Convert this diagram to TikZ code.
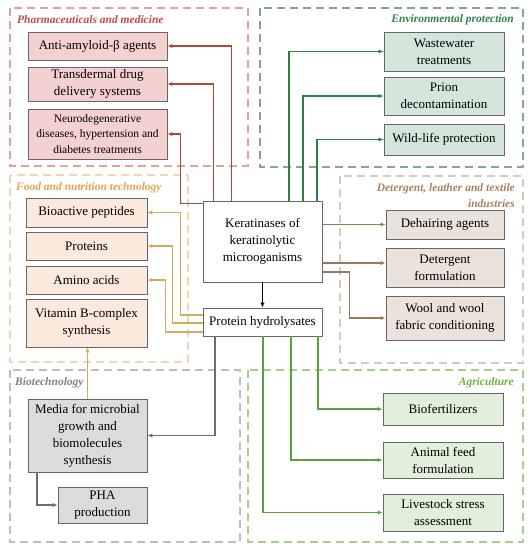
\documentclass[tikz,border=0pt]{standalone}
\usepackage{fontspec}
\setmainfont{Liberation Serif}
\usetikzlibrary{arrows.meta}

\definecolor{pharmfill}{RGB}{245,208,208}
\definecolor{pharmline}{RGB}{226,160,160}
\definecolor{pharmtext}{RGB}{196,72,72}
\definecolor{pharmarrow}{RGB}{176,74,56}
\definecolor{envfill}{RGB}{212,230,220}
\definecolor{envline}{RGB}{130,168,144}
\definecolor{envtext}{RGB}{46,128,80}
\definecolor{envarrow}{RGB}{46,125,70}
\definecolor{foodfill}{RGB}{252,233,221}
\definecolor{foodline}{RGB}{245,214,178}
\definecolor{foodtext}{RGB}{232,160,80}
\definecolor{foodarrow}{RGB}{212,170,92}
\definecolor{detfill}{RGB}{236,226,220}
\definecolor{detline}{RGB}{214,202,192}
\definecolor{dettext}{RGB}{166,128,96}
\definecolor{detarrow}{RGB}{150,125,90}
\definecolor{biofill}{RGB}{220,220,220}
\definecolor{bioline}{RGB}{190,190,190}
\definecolor{biotext}{RGB}{128,128,128}
\definecolor{bioarrow}{RGB}{110,110,110}
\definecolor{agrifill}{RGB}{226,239,218}
\definecolor{agriline}{RGB}{168,208,141}
\definecolor{agritext}{RGB}{112,173,71}
\definecolor{agriarrow}{RGB}{90,160,60}

\begin{document}
\begin{tikzpicture}[x=1pt, y=-1pt,
        >={Latex[length=5pt,width=4.5pt]},
        box/.style={draw=black!60, line width=0.9pt, align=center, inner sep=1pt,
            font=\fontsize{13}{17}\selectfont},
        group/.style={dashed, dash pattern=on 8pt off 5pt, line width=1.6pt},
        grouptitle/.style={font=\fontsize{11.5}{16}\selectfont\bfseries\itshape, inner sep=0pt},
        link/.style={->, line width=1.4pt}]
    \useasboundingbox (0,0) rectangle (531,550);

    % Groups
    \draw[group, pharmline] (10,8) rectangle (248,166);
    \draw[group, envline] (260,8) rectangle (523,167);
    \draw[group, foodline] (10,175) rectangle (188,362);
    \draw[group, detline] (340,176) rectangle (523,363);
    \draw[group, bioline] (10,370) rectangle (240,542);
    \draw[group, agriline] (248,370) rectangle (523,542);

    \node[grouptitle, pharmtext, anchor=west] (tpharm) at (17,20) {Pharmaceuticals and medicine};
    \node[grouptitle, envtext, anchor=east] (tenv) at (514,20) {Environmental protection};
    \node[grouptitle, foodtext, anchor=west] (tfood) at (16,188) {Food and nutrition technology};
    \node[grouptitle, dettext, anchor=north east, align=right] (tdet) at (515,183)
        {Detergent, leather and textile\\industries};
    \node[grouptitle, biotext, anchor=west] (tbio) at (15,383) {Biotechnology};
    \node[grouptitle, agritext, anchor=east] (tagri) at (514,383) {Agriculture};

    % Centre
    \node[box, fill=white, minimum width=119, minimum height=81] (kera) at (262.5,241.5)
        {Keratinases of\\keratinolytic\\microoganisms};
    \node[box, fill=white, minimum width=119, minimum height=28] (hydro) at (262.5,322) {Protein hydrolysates};

    % Pharmaceuticals and medicine
    \node[box, fill=pharmfill, minimum width=139, minimum height=28] (amyloid) at (97.5,46) {Anti-amyloid-β agents};
    \node[box, fill=pharmfill, minimum width=139, minimum height=34] (transderm) at (97.5,84)
        {Transdermal drug\\delivery systems};
    \node[box, fill=pharmfill, minimum width=139, minimum height=50, font=\fontsize{11.5}{15.5}\selectfont] (neuro) at (97.5,134)
        {Neurodegenerative\\diseases, hypertension and\\diabetes treatments};

    % Environmental protection
    \node[box, fill=envfill, minimum width=120, minimum height=39] (waste) at (444,51.5) {Wastewater\\treatments};
    \node[box, fill=envfill, minimum width=120, minimum height=38] (prion) at (444,96) {Prion\\decontamination};
    \node[box, fill=envfill, minimum width=120, minimum height=31] (wild) at (444,139.5) {Wild-life protection};

    % Food and nutrition technology
    \node[box, fill=foodfill, minimum width=121, minimum height=29] (bioact) at (86.5,212.5) {Bioactive peptides};
    \node[box, fill=foodfill, minimum width=121, minimum height=28] (prot) at (86.5,246) {Proteins};
    \node[box, fill=foodfill, minimum width=121, minimum height=28] (amino) at (86.5,280) {Amino acids};
    \node[box, fill=foodfill, minimum width=121, minimum height=48] (vitamin) at (86.5,323)
        {Vitamin B-complex\\synthesis};

    % Detergent, leather and textile industries
    \node[box, fill=detfill, minimum width=118, minimum height=29] (dehair) at (445,224.5) {Dehairing agents};
    \node[box, fill=detfill, minimum width=118, minimum height=39] (deterg) at (445,267.5) {Detergent\\formulation};
    \node[box, fill=detfill, minimum width=118, minimum height=44] (wool) at (445,318)
        {Wool and wool\\fabric conditioning};

    % Biotechnology
    \node[box, fill=biofill, minimum width=119, minimum height=73] (media) at (87.5,435.5)
        {Media for microbial\\growth and\\biomolecules\\synthesis};
    \node[box, fill=biofill, minimum width=89, minimum height=36] (pha) at (102.5,505) {PHA\\production};

    % Agriculture
    \node[box, fill=agrifill, minimum width=120, minimum height=32] (biofert) at (443,409) {Biofertilizers};
    \node[box, fill=agrifill, minimum width=120, minimum height=36] (animal) at (443,460) {Animal feed\\formulation};
    \node[box, fill=agrifill, minimum width=120, minimum height=37] (livestock) at (443,512.5)
        {Livestock stress\\assessment};

    % Connectors
    \draw[link, black] (kera.south) -- (hydro.north);

    \draw[link, pharmarrow] ([xshift=-31pt]kera.north) |- (amyloid.east);
    \draw[link, pharmarrow] ([xshift=-49pt]kera.north) |- (transderm.east);
    \draw[link, pharmarrow] ([yshift=-3pt]kera.north west) -- ++(-22,0) |- (neuro.east);

    \draw[link, envarrow] ([xshift=26.5pt]kera.north) |- (waste.west);
    \draw[link, envarrow] ([xshift=40.5pt]kera.north) |- (prion.west);
    \draw[link, envarrow] ([xshift=54.5pt]kera.north) |- (wild.west);

    \draw[link, foodarrow] ([yshift=7pt]hydro.west) -- ++(-22,0) |- (bioact.east);
    \draw[link, foodarrow] ([yshift=-1pt]hydro.west) -- ++(-30,0) |- (prot.east);
    \draw[link, foodarrow] ([yshift=-10pt]hydro.west) -- ++(-37,0) |- (amino.east);
    \draw[link, foodarrow] (media.north) -- (media.north |- vitamin.south);

    \draw[link, detarrow] (kera.east |- dehair.west) -- (dehair.west);
    \draw[link, detarrow] ([yshift=-21.5pt]kera.east) -- ([yshift=-21.5pt]kera.east -| deterg.west);
    \draw[link, detarrow] ([yshift=-30.5pt]kera.east) -- ++(27,0) |- (wool.west);

    \draw[link, bioarrow] ([xshift=-47.5pt]hydro.south) |- (media.east);
    \draw[link, bioarrow] ([xshift=-50.5pt]media.south) |- (pha.west);

    \draw[link, agriarrow] ([xshift=55.5pt]hydro.south) |- (biofert.west);
    \draw[link, agriarrow] ([xshift=28.5pt]hydro.south) |- (animal.west);
    \draw[link, agriarrow] ([xshift=0.5pt]hydro.south) |- (livestock.west);
\end{tikzpicture}
\end{document}
